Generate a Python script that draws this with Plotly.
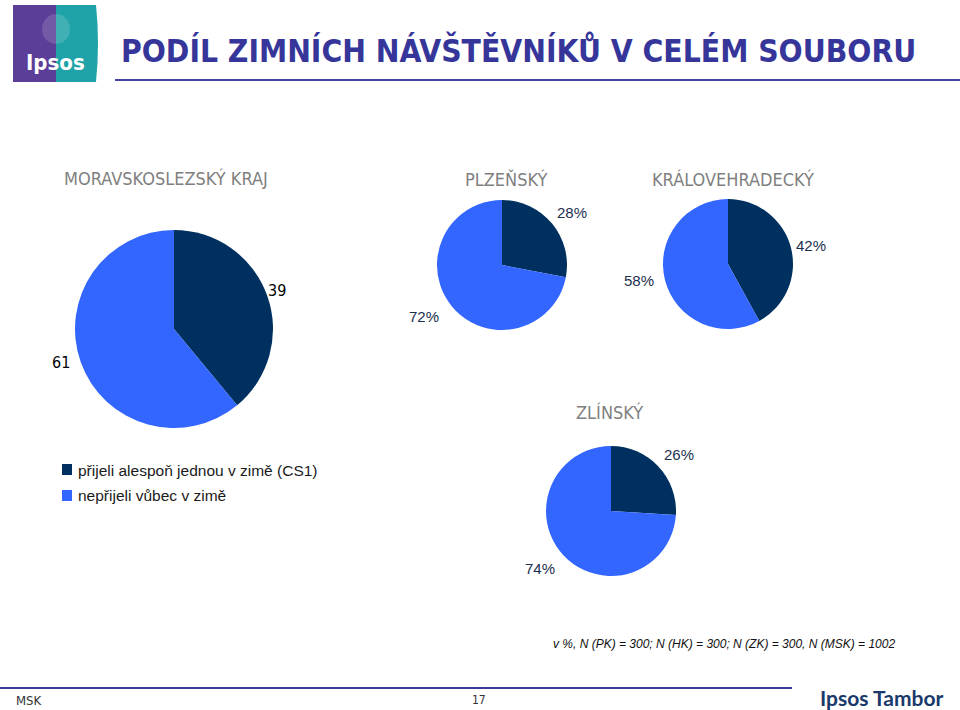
import plotly.graph_objects as go

W, H = 960, 710

# ---- data ----
regions = ["MORAVSKOSLEZSKÝ KRAJ", "PLZEŇSKÝ", "KRÁLOVEHRADECKÝ", "ZLÍNSKÝ"]
came_in_winter = [39, 28, 42, 26]
not_in_winter = [61, 72, 58, 74]
value_suffix = ["", "%", "%", "%"]
series_labels = ["přijeli alespoň jednou v zimě (CS1)", "nepřijeli vůbec v zimě"]
series_colors = ["#00305f", "#3366ff"]

title_text = "PODÍL ZIMNÍCH NÁVŠTĚVNÍKŮ V CELÉM SOUBORU"
footnote = "v %, N (PK) = 300; N (HK) = 300; N (ZK) = 300, N (MSK) = 1002"

NARROW = "DejaVu Sans Condensed, Liberation Sans Narrow, Arial Narrow, sans-serif"
REG = "Liberation Sans, Arial, sans-serif"

# ---- layout geometry (pixels) ----
pie_geom = [(174, 329, 99), (502, 265, 65), (728, 264, 65), (611, 511, 65)]
region_title_pos = [(166, 178), (506, 179), (733, 179), (609, 412)]
came_label_pos = [(277, 290), (572, 212), (811, 245), (679, 454)]
not_label_pos = [(61, 362), (424, 316), (639, 281), (540, 568)]


def fx(x):
    return x / W


def fy(y):
    return 1 - y / H


def ann(x, y, text, font, xanchor="center", yanchor="middle"):
    return dict(x=fx(x), y=fy(y), xref="paper", yref="paper", text=text,
                showarrow=False, xanchor=xanchor, yanchor=yanchor, font=font)


fig = go.Figure()
annotations = []
shapes = []

for i, reg in enumerate(regions):
    cx, cy, r = pie_geom[i]
    fig.add_trace(go.Pie(
        labels=series_labels,
        values=[came_in_winter[i], not_in_winter[i]],
        marker=dict(colors=series_colors, line=dict(width=0)),
        sort=False, direction="clockwise", rotation=0,
        textinfo="none", hoverinfo="label+value",
        showlegend=False,
        domain=dict(x=[fx(cx - r), fx(cx + r)], y=[fy(cy + r), fy(cy - r)]),
        name=reg,
    ))
    tx, ty = region_title_pos[i]
    annotations.append(ann(tx, ty, reg, dict(family=NARROW, size=18, color="#7f7f7f")))
    is_msk = value_suffix[i] == ""
    lab_font = dict(family=(NARROW if is_msk else REG),
                    size=16 if is_msk else 15,
                    color="#000000" if is_msk else "#1b2f50")
    for val, pos in ((came_in_winter[i], came_label_pos[i]), (not_in_winter[i], not_label_pos[i])):
        annotations.append(ann(pos[0], pos[1], f"{val}{value_suffix[i]}", lab_font))

# legend (manual)
legend_rows = [470, 496]
for lab, col, y in zip(series_labels, series_colors, legend_rows):
    shapes.append(dict(type="rect", xref="paper", yref="paper",
                       x0=fx(62), x1=fx(72), y0=fy(y + 5), y1=fy(y - 6),
                       fillcolor=col, line=dict(width=0)))
    annotations.append(ann(76, y, lab, dict(family=REG, size=15.5, color="#1a1a1a"),
                           xanchor="left"))

# title
annotations.append(ann(119, 50, f"<b>{title_text}</b>",
                       dict(family=NARROW, size=31.5, color="#35359a"), xanchor="left"))
shapes.append(dict(type="line", xref="paper", yref="paper", x0=fx(115), x1=1,
                   y0=fy(80), y1=fy(80), line=dict(color="#4444a4", width=2)))

# logo
shapes.append(dict(type="rect", xref="paper", yref="paper", x0=fx(13), x1=fx(56),
                   y0=fy(82), y1=fy(5), fillcolor="#5a3e98", line=dict(width=0), layer="below"))
shapes.append(dict(type="path", xref="paper", yref="paper",
                   path=f"M {fx(56)},{fy(5)} L {fx(96)},{fy(5)} Q {fx(100)},{fy(43)} {fx(96)},{fy(82)} L {fx(56)},{fy(82)} Z",
                   fillcolor="#1fa3a8", line=dict(width=0), layer="below"))
shapes.append(dict(type="circle", xref="paper", yref="paper", x0=fx(42), x1=fx(70),
                   y0=fy(44), y1=fy(14), fillcolor="rgba(255,255,255,0.15)", line=dict(width=0),
                   layer="below"))
annotations.append(ann(55, 63, "<b>Ipsos</b>", dict(family=NARROW, size=22, color="white")))

# footnote
annotations.append(ann(897, 644, f"<i>{footnote}</i>",
                       dict(family=REG, size=12, color="#111111"), xanchor="right"))

# footer
shapes.append(dict(type="line", xref="paper", yref="paper", x0=0, x1=fx(792),
                   y0=fy(688), y1=fy(688), line=dict(color="#3a3a9a", width=2)))
annotations.append(ann(14, 700, "MSK", dict(family=NARROW, size=13, color="#333333"), xanchor="left"))
annotations.append(ann(479, 700, "17", dict(family=NARROW, size=12, color="#333333")))
annotations.append(ann(945, 697, "<b>Ipsos Tambor</b>",
                       dict(family="Lato, sans-serif", size=21, color="#1a3a6b"), xanchor="right"))

fig.update_layout(
    width=W, height=H,
    margin=dict(l=0, r=0, t=0, b=0),
    paper_bgcolor="white", plot_bgcolor="white",
    showlegend=False,
    annotations=annotations,
    shapes=shapes,
)

fig.write_html("out.html")
